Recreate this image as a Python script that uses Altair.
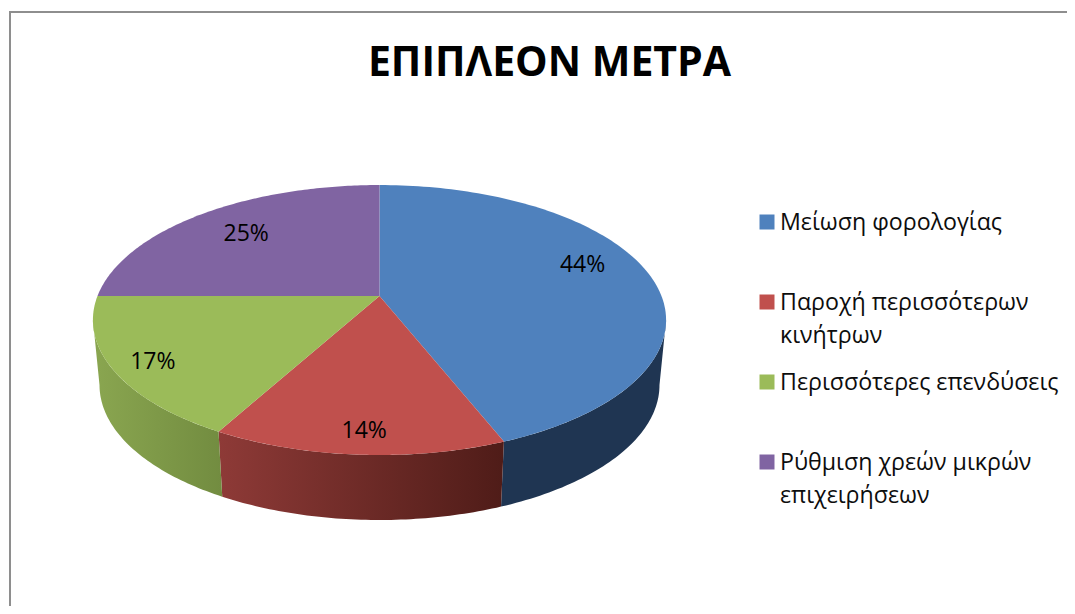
import numpy as np
import pandas as pd
import altair as alt

# Data
categories = ["Μείωση φορολογίας", "Παροχή περισσότερων\nκινήτρων",
              "Περισσότερες επενδύσεις", "Ρύθμιση χρεών μικρών\nεπιχειρήσεων"]
values = [44, 14, 17, 25]
label_angle = [72, 183, 238, 315]
label_radius = [0.79, 0.875, 0.87, 0.73]
colors = ["#4f81bd", "#c0504d", "#9bbb59", "#8064a2"]
side_left = ["#1f3552", "#8e3a37", "#8aa650", None]
side_right = ["#1f3552", "#4f1c18", "#728c40", None]
title = "ΕΠΙΠΛΕΟΝ ΜΕΤΡΑ"
FONT = "Open Sans"

W, H = 1059, 598
CX, CY = 379.5, 296      # apex of the pie
F, G, K = 282, 130.7, 0.178  # perspective of the tilted disc
DEPTH = 65
RIM = 0.977

xs = alt.Scale(domain=[8, 8 + W], nice=False, zero=False)
ys = alt.Scale(domain=[8 + H, 8], nice=False, zero=False)


def project(deg, r=1.0, rim=False):
    t = np.radians(deg)
    X, Y = r * np.sin(t), r * np.cos(t)
    d = 1 + K * Y
    px = CX + (F * RIM if rim else F) * X / d
    py = CY - G * Y / d + (DEPTH if rim else 0)
    return px, py


def poly_chart(px, py, fill):
    df = pd.DataFrame({"px": px, "py": py, "o": np.arange(len(px))})
    return alt.Chart(df).mark_line(fill=fill, stroke=None, strokeWidth=0, interpolate="linear-closed").encode(
        x=alt.X("px:Q", scale=xs, axis=None),
        y=alt.Y("py:Q", scale=ys, axis=None),
        order="o:Q",
    )


edges = np.cumsum([0] + values) * 3.6
layers = []

# frame
layers.append(alt.Chart(pd.DataFrame({"a": [0]})).mark_rule(color="#8e8e8e", strokeWidth=2).encode(
    x=alt.value(2), y=alt.value(4), y2=alt.value(H)))
layers.append(alt.Chart(pd.DataFrame({"a": [0]})).mark_rule(color="#8e8e8e", strokeWidth=2).encode(
    x=alt.value(1), x2=alt.value(W), y=alt.value(4)))

# side walls, visible only on the near half of the disc
near_from = np.degrees(np.arccos(-K))
near_to = 360 - near_from
for i in range(4):
    a = max(edges[i], near_from)
    b = min(edges[i + 1], near_to)
    if b <= a:
        continue
    th = np.linspace(a, b, 60)
    tx, ty = project(th)
    bx, by = project(th[::-1], rim=True)
    fill = alt.Gradient(gradient="linear", x1=0, x2=1, y1=0, y2=0,
                        stops=[alt.GradientStop(offset=0, color=side_left[i]),
                               alt.GradientStop(offset=1, color=side_right[i])])
    layers.append(poly_chart(np.r_[tx, bx], np.r_[ty, by], fill))

# top faces
for i in range(4):
    th = np.linspace(edges[i], edges[i + 1], 120)
    tx, ty = project(th)
    layers.append(poly_chart(np.r_[CX, tx], np.r_[CY, ty], colors[i]))

# percentage labels
lx, ly = zip(*[project(m, r) for m, r in zip(label_angle, label_radius)])
lab = pd.DataFrame({"lx": lx, "ly": ly, "t": [f"{v}%" for v in values]})
layers.append(alt.Chart(lab).mark_text(font=FONT, fontSize=23, color="#000000").encode(
    x=alt.X("lx:Q", scale=xs, axis=None), y=alt.Y("ly:Q", scale=ys, axis=None), text="t:N"))

# title
layers.append(alt.Chart(pd.DataFrame({"t": [title]})).mark_text(
    font=FONT, fontSize=41, fontWeight="bold", color="#000000").encode(
    x=alt.value(541.5), y=alt.value(56), text="t:N"))

# legend
rows = np.arange(4)
leg = pd.DataFrame({"c": categories, "lx": 767.0, "tx": 780.0, "ly": 222 + rows * 80, "col": colors})
layers.append(alt.Chart(leg).mark_square(size=225, opacity=1).encode(
    x=alt.X("lx:Q", scale=xs, axis=None), y=alt.Y("ly:Q", scale=ys, axis=None),
    color=alt.Color("col:N", scale=None)))
layers.append(alt.Chart(leg).mark_text(font=FONT, fontSize=23.2, align="left", baseline="alphabetic",
                                       lineBreak="\n", lineHeight=33, color="#0d0d0d", dy=8).encode(
    x=alt.X("tx:Q", scale=xs, axis=None), y=alt.Y("ly:Q", scale=ys, axis=None), text="c:N"))

chart = alt.layer(*layers).properties(
    width=W, height=H, padding=0, autosize=alt.AutoSizeParams(type="none")
).configure_view(stroke=None)
chart.save("out.html", embed_options={"renderer": "svg", "actions": False})
